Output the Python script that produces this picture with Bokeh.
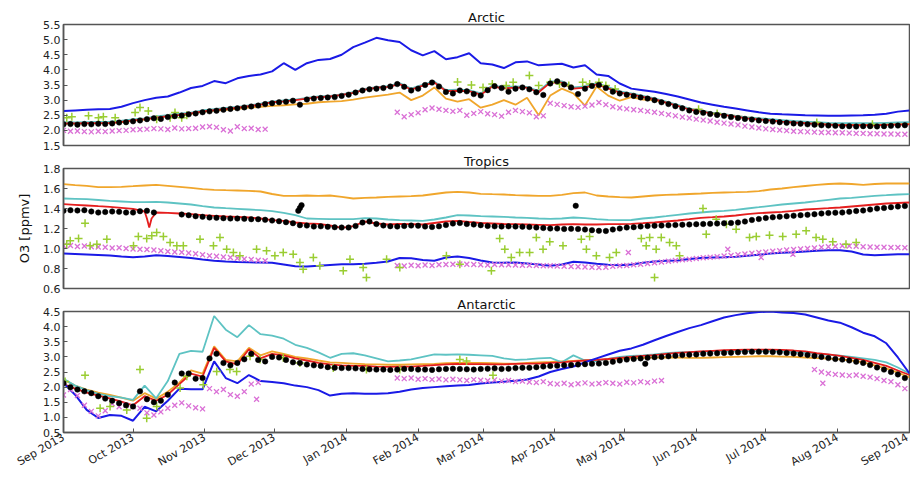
import math
import numpy as np
import pandas as pd
from bokeh.plotting import figure
from bokeh.layouts import column
from bokeh.models import Range1d, FixedTicker, DatetimeTickFormatter, NumeralTickFormatter
from bokeh.embed import file_html
from bokeh.resources import INLINE

START = "2013-09-01"
MONTHS = ["2013-09-01", "2013-10-01", "2013-11-01", "2013-12-01", "2014-01-01", "2014-02-01",
          "2014-03-01", "2014-04-01", "2014-05-01", "2014-06-01", "2014-07-01", "2014-08-01",
          "2014-09-01"]
LINE_DAYS = list(range(0, 366, 5))   # model curves, day offset from 1 Sep 2013
OBS_DAYS = list(range(0, 364, 3))    # observation markers

# ---------------- Arctic ----------------
ARC_BLUE = [2.64, 2.66, 2.68, 2.70, 2.71, 2.78, 2.90, 3.00, 3.08, 3.12,
            3.25, 3.40, 3.47, 3.63, 3.56, 3.72, 3.80, 3.85, 3.95, 4.22,
            4.00, 4.22, 4.33, 4.36, 4.50, 4.75, 4.90, 5.06, 4.98, 4.92,
            4.65, 4.48, 4.62, 4.35, 4.42, 4.55, 4.22, 4.18, 4.06, 4.25,
            4.28, 4.15, 4.18, 4.20, 4.08, 4.15, 3.85, 3.80, 3.55, 3.38,
            3.33, 3.28, 3.20, 3.12, 3.02, 2.92, 2.85, 2.78, 2.72, 2.66,
            2.60, 2.55, 2.53, 2.52, 2.50, 2.49, 2.48, 2.48, 2.49, 2.50,
            2.52, 2.55, 2.62, 2.66]
ARC_CYAN = [2.27, 2.26, 2.27, 2.28, 2.29, 2.32, 2.36, 2.40, 2.46, 2.50,
            2.55, 2.59, 2.66, 2.70, 2.74, 2.78, 2.83, 2.88, 2.95, 2.99,
            3.02, 3.07, 3.12, 3.14, 3.19, 3.26, 3.37, 3.43, 3.46, 3.56,
            3.38, 3.51, 3.62, 3.33, 3.35, 3.33, 3.22, 3.48, 3.43, 3.45,
            3.44, 3.30, 3.62, 3.62, 3.42, 3.45, 3.56, 3.43, 3.29, 3.22,
            3.14, 3.06, 2.95, 2.84, 2.72, 2.65, 2.59, 2.54, 2.48, 2.43,
            2.40, 2.37, 2.34, 2.31, 2.29, 2.27, 2.25, 2.24, 2.24, 2.24,
            2.24, 2.25, 2.26, 2.27]
ARC_RED = [2.23, 2.23, 2.24, 2.24, 2.25, 2.28, 2.33, 2.37, 2.42, 2.47,
           2.51, 2.56, 2.63, 2.67, 2.71, 2.75, 2.80, 2.85, 2.93, 2.96,
           3.00, 3.05, 3.10, 3.12, 3.17, 3.24, 3.35, 3.41, 3.44, 3.53,
           3.35, 3.48, 3.58, 3.30, 3.31, 3.30, 3.18, 3.45, 3.39, 3.41,
           3.41, 3.26, 3.58, 3.58, 3.38, 3.41, 3.52, 3.39, 3.25, 3.19,
           3.11, 3.03, 2.92, 2.81, 2.69, 2.62, 2.56, 2.51, 2.45, 2.40,
           2.36, 2.33, 2.29, 2.26, 2.24, 2.21, 2.19, 2.17, 2.17, 2.17,
           2.17, 2.18, 2.19, 2.20]
ARC_ORANGE = [2.22, 2.22, 2.23, 2.23, 2.24, 2.27, 2.32, 2.36, 2.42, 2.47,
              2.51, 2.55, 2.61, 2.65, 2.68, 2.71, 2.75, 2.78, 2.81, 2.83,
              2.86, 2.88, 2.93, 2.95, 2.97, 3.02, 3.08, 3.13, 3.18, 3.25,
              3.00, 3.15, 3.42, 3.05, 2.95, 3.03, 2.75, 2.85, 3.00, 2.85,
              3.08, 2.50, 3.15, 3.38, 3.22, 2.82, 3.45, 3.15, 2.98, 3.10,
              3.02, 3.00, 2.92, 2.82, 2.72, 2.65, 2.58, 2.53, 2.48, 2.43,
              2.39, 2.35, 2.32, 2.29, 2.26, 2.24, 2.22, 2.21, 2.20, 2.20,
              2.20, 2.21, 2.22, 2.23]
ARC_BLACK = [2.20, 2.21, 2.19, 2.21, 2.20, 2.22, 2.21, 2.23, 2.26, 2.27,
             2.30, 2.33, 2.37, 2.40, 2.38, 2.44, 2.47, 2.49, 2.53, 2.56,
             2.60, 2.63, 2.65, 2.68, 2.71, 2.73, 2.76, 2.79, 2.82, 2.87,
             2.90, 2.93, 2.95, 2.98, 2.85, 3.02, 3.05, 3.07, 3.09, 3.10,
             3.14, 3.18, 3.25, 3.32, 3.36, 3.38, 3.40, 3.45, 3.53, 3.44,
             3.32, 3.38, 3.50, 3.58, 3.45, 3.27, 3.22, 3.32, 3.29, 3.20,
             3.15, 3.33, 3.46, 3.40, 3.28, 3.38, 3.42, 3.36, 3.26, 3.17,
             3.55, 3.62, 3.52, 3.42, 3.20, 3.38, 3.47, 3.50, 3.40, 3.28,
             3.22, 3.18, 3.14, 3.09, 3.05, 3.00, 2.93, 2.87, 2.80, 2.73,
             2.66, 2.61, 2.58, 2.54, 2.51, 2.48, 2.44, 2.41, 2.38, 2.36,
             2.33, 2.31, 2.29, 2.27, 2.25, 2.23, 2.22, 2.20, 2.19, 2.17,
             2.16, 2.15, 2.14, 2.14, 2.13, 2.14, 2.14, 2.13, 2.14, 2.15,
             2.16, 2.17]
ARC_VIOLET = [2.00, 1.97, 1.98, 1.96, 1.95, 1.97, 1.96, 1.98, 1.99, 2.00,
              2.02, 2.03, 2.04, 2.06, 2.05, 2.03, 2.08, 2.05, 2.06, 2.07,
              2.11, 2.13, 2.10, 2.02, 1.98, 2.12, 2.06, 2.07, 2.03, 2.04,
              None, None, None, None, None, None, None, None, None, None,
              None, None, None, None, None, None, None, None, 2.60, 2.45,
              2.52, 2.58, 2.68, 2.74, 2.70, 2.66, 2.63, 2.66, 2.50, 2.56,
              2.62, 2.55, 2.52, 2.47, 2.60, 2.66, 2.62, 2.58, 2.45, 2.48,
              2.90, 2.86, 2.82, 2.78, 2.76, 2.80, 2.84, 2.92, 2.85, 2.78,
              2.74, 2.71, 2.68, 2.66, 2.63, 2.60, 2.56, 2.52, 2.48, 2.44,
              2.41, 2.37, 2.34, 2.31, 2.27, 2.24, 2.21, 2.18, 2.14, 2.11,
              2.08, 2.05, 2.03, 2.01, 1.99, 1.97, 1.96, 1.95, 1.94, 1.93,
              1.93, 1.92, 1.92, 1.91, 1.90, 1.90, 1.89, 1.89, 1.88, 1.88,
              1.87, 1.87]
ARC_GREEN_DAYS = [1.4, 3.6, 10.8, 15.1, 17.2, 22.3, 30.9, 33, 36.6, 40.2, 46, 48.1, 51, 53.2,
                  170, 176, 181, 185, 191, 194, 201, 205, 210, 214, 218, 224, 227, 231, 234, 238,
                  274, 282, 325, 349]
ARC_GREEN = [2.42, 2.45, 2.48, 2.42, 2.45, 2.42, 2.59, 2.76, 2.64, 2.37, 2.42, 2.59, 2.42, 2.50,
             3.60, 3.50, 3.42, 3.53, 3.48, 3.59, 3.81, 3.48, 3.59, 3.53, 3.48, 3.59, 3.53, 3.59, 3.48, 3.37,
             2.70, 2.56, 2.26, 2.20]

# ---------------- Tropics ----------------
TRO_ORANGE = [1.643, 1.633, 1.627, 1.613, 1.613, 1.617, 1.623, 1.630, 1.637, 1.627,
              1.617, 1.607, 1.593, 1.587, 1.583, 1.580, 1.577, 1.570, 1.545, 1.527,
              1.527, 1.530, 1.527, 1.530, 1.517, 1.500, 1.507, 1.510, 1.517, 1.520,
              1.523, 1.530, 1.545, 1.560, 1.567, 1.560, 1.547, 1.543, 1.540, 1.533,
              1.530, 1.527, 1.527, 1.537, 1.553, 1.560, 1.530, 1.520, 1.513, 1.510,
              1.520, 1.530, 1.537, 1.540, 1.545, 1.550, 1.557, 1.560, 1.563, 1.567,
              1.573, 1.590, 1.600, 1.613, 1.625, 1.637, 1.645, 1.650, 1.645, 1.637,
              1.645, 1.650, 1.650, 1.650]
TRO_CYAN = [1.500, 1.497, 1.493, 1.485, 1.477, 1.470, 1.463, 1.463, 1.467, 1.460,
            1.450, 1.440, 1.423, 1.410, 1.403, 1.397, 1.390, 1.383, 1.373, 1.357,
            1.333, 1.300, 1.297, 1.293, 1.293, 1.293, 1.303, 1.300, 1.290, 1.283,
            1.280, 1.277, 1.290, 1.310, 1.333, 1.330, 1.323, 1.320, 1.317, 1.310,
            1.307, 1.300, 1.297, 1.300, 1.310, 1.303, 1.293, 1.287, 1.283, 1.285,
            1.300, 1.310, 1.323, 1.337, 1.350, 1.360, 1.370, 1.377, 1.387, 1.400,
            1.413, 1.427, 1.440, 1.450, 1.460, 1.473, 1.487, 1.500, 1.507, 1.517,
            1.527, 1.533, 1.540, 1.543]
TRO_RED = [1.443, 1.437, 1.430, 1.423, 1.417, 1.407, 1.397, 1.370, 1.360, 1.357,
           1.350, 1.343, 1.333, 1.327, 1.320, 1.317, 1.310, 1.300, 1.283, 1.277,
           1.260, 1.250, 1.247, 1.230, 1.207, 1.223, 1.270, 1.250, 1.240, 1.245,
           1.243, 1.240, 1.255, 1.270, 1.277, 1.265, 1.255, 1.250, 1.245, 1.243,
           1.240, 1.237, 1.233, 1.240, 1.243, 1.240, 1.240, 1.243, 1.243, 1.247,
           1.253, 1.260, 1.270, 1.280, 1.293, 1.307, 1.313, 1.320, 1.330, 1.343,
           1.353, 1.360, 1.367, 1.377, 1.390, 1.397, 1.403, 1.410, 1.420, 1.430,
           1.440, 1.450, 1.455, 1.460]
TRO_RED_DIP_DAYS = [36, 37, 38]
TRO_RED_DIP = [1.30, 1.21, 1.30]
TRO_BLUE = [0.950, 0.945, 0.940, 0.935, 0.930, 0.920, 0.912, 0.920, 0.933, 0.925,
            0.915, 0.905, 0.890, 0.877, 0.870, 0.865, 0.862, 0.860, 0.858, 0.840,
            0.822, 0.820, 0.827, 0.835, 0.843, 0.843, 0.847, 0.858, 0.870, 0.905,
            0.902, 0.885, 0.877, 0.910, 0.920, 0.905, 0.880, 0.860, 0.858, 0.860,
            0.850, 0.840, 0.827, 0.840, 0.867, 0.860, 0.847, 0.837, 0.833, 0.840,
            0.857, 0.870, 0.877, 0.880, 0.895, 0.905, 0.910, 0.913, 0.917, 0.927,
            0.937, 0.950, 0.957, 0.963, 0.970, 0.977, 0.983, 0.983, 0.970, 0.940,
            0.933, 0.938, 0.942, 0.943]
TRO_BLACK = [1.377, 1.383, 1.380, 1.383, 1.370, 1.360, 1.365, 1.370, 1.367, 1.360,
             1.360, 1.373, 1.377, 1.360, None, None, None, 1.340, 1.333, 1.323,
             1.317, 1.310, 1.307, 1.303, 1.300, 1.300, 1.297, 1.293, 1.293, 1.287,
             1.280, 1.273, 1.263, 1.253, 1.233, 1.230, 1.220, 1.222, 1.217, 1.213,
             1.210, 1.210, 1.225, 1.260, 1.270, 1.245, 1.230, 1.223, 1.220, 1.225,
             1.230, 1.228, 1.220, 1.215, 1.222, 1.235, 1.250, 1.255, 1.245, 1.240,
             1.233, 1.225, 1.222, 1.220, 1.222, 1.220, 1.218, 1.215, 1.210, 1.205,
             1.200, 1.200, 1.195, 1.197, 1.195, 1.190, 1.183, 1.177, 1.175, 1.190,
             1.200, 1.210, 1.213, 1.220, 1.225, 1.228, 1.230, 1.232, 1.235, 1.238,
             1.240, 1.243, 1.245, 1.247, 1.250, 1.252, 1.255, 1.260, 1.270, 1.285,
             1.295, 1.305, 1.312, 1.318, 1.323, 1.328, 1.333, 1.337, 1.343, 1.350,
             1.355, 1.358, 1.360, 1.367, 1.375, 1.380, 1.390, 1.400, 1.405, 1.413,
             1.420, 1.425]
TRO_BLACK_EXTRA_DAYS = [101.3, 102, 102.7, 221]
TRO_BLACK_EXTRA = [1.377, 1.405, 1.433, 1.427]
TRO_VIOLET = [1.027, 1.030, 1.020, 1.025, 1.018, 1.015, 1.012, 1.005, 1.008, 1.000,
              0.995, 0.992, 0.990, 0.985, 0.978, 0.970, 0.965, 0.962, 0.955, 0.948,
              0.937, 0.927, 0.922, 0.915, 0.910, 0.902, 0.895, 0.890, 0.883, 0.877,
              None, None, None, None, None, None, None, None, None, None,
              None, None, None, None, None, None, None, None, 0.830, 0.825,
              0.833, 0.828, 0.835, 0.830, 0.837, 0.840, 0.843, 0.845, 0.842, 0.840,
              0.838, 0.835, 0.840, 0.838, 0.837, 0.835, 0.833, 0.832, 0.830, 0.827,
              0.828, 0.825, 0.822, 0.820, 0.818, 0.815, 0.812, 0.810, 0.812, 0.822,
              0.827, 0.830, 0.837, 0.843, 0.850, 0.857, 0.865, 0.872, 0.880, 0.887,
              0.893, 0.900, 0.907, 0.912, 0.918, 0.925, 0.930, 0.937, 0.945, 0.953,
              0.960, 0.965, 0.972, 0.978, 0.985, 0.990, 0.995, 1.000, 1.005, 1.012,
              1.018, 1.023, 1.027, 1.025, 1.022, 1.018, 1.015, 1.013, 1.012, 1.010,
              1.010, 1.008]
TRO_VIOLET_EXTRA_DAYS = [243.7, 286.6, 301, 314.7]
TRO_VIOLET_EXTRA = [0.96, 0.993, 0.91, 0.943]
TRO_GREEN_DAYS = [1.4, 2.9, 6.5, 9.3, 11.5, 14.4, 18.7, 30.2, 32.3, 35.9, 38.1, 40.2, 43.1, 46.0,
                  48.9, 51.7, 58.9, 64.7, 67.5, 70.4, 73.3, 76.1, 83.3, 87.6, 91.2, 94.8, 99.1,
                  102, 103.4, 107.8, 110.6, 120.7, 123.6, 129.3, 130.7, 139.4, 145.1, 165.2,
                  171, 184.6, 188.2, 190.4, 193.2, 196.8, 201.1, 204, 206.9, 209.8, 215.5,
                  223.4, 225.6, 227, 229.9, 235.6, 238.5, 249.3, 251.4, 252.9, 255, 255.7,
                  257.9, 261.5, 264.4, 265.8, 275.9, 277.3, 281.6, 286, 290.2, 296, 298.9,
                  304.6, 310.3, 316.1, 320.4, 324.7, 327.6, 331.9, 337.6, 342]
TRO_GREEN = [1.043, 1.077, 1.100, 1.253, 1.027, 1.043, 1.093, 1.027, 1.120, 1.100, 1.127, 1.160, 1.120, 1.060,
             1.027, 1.027, 1.093, 1.027, 1.110, 0.993, 0.960, 0.927, 0.993, 0.977, 0.927, 0.960, 0.943,
             0.860, 0.793, 0.910, 0.827, 0.777, 0.893, 0.810, 0.710, 0.893, 0.810, 0.927,
             0.843, 0.777, 1.100, 0.993, 0.910, 0.960, 0.960, 1.110, 0.993, 1.067, 1.027,
             1.093, 0.993, 1.120, 0.927, 0.910, 0.960, 1.100, 1.027, 1.110, 0.710, 0.993,
             1.110, 1.060, 1.027, 0.927, 1.400, 1.143, 1.293, 1.243, 1.193, 1.110, 1.120,
             1.133, 1.120, 1.143, 1.177, 1.110, 1.093, 1.067, 1.043, 1.060]

# ---------------- Antarctic ----------------
ANT_BLUE = [2.13, 1.75, 1.25, 0.98, 1.08, 1.05, 0.89, 1.35, 1.20, 1.55,
            1.95, 1.93, 1.93, 2.85, 2.30, 2.13, 2.40, 2.20, 2.17, 2.13,
            2.05, 2.00, 1.90, 1.72, 1.78, 1.80, 1.78, 1.78, 1.80, 1.85,
            1.92, 1.97, 2.00, 2.03, 2.05, 2.07, 2.12, 2.15, 2.18, 2.21,
            2.25, 2.35, 2.50, 2.60, 2.68, 2.82, 2.95, 3.08, 3.20, 3.28,
            3.40, 3.55, 3.69, 3.82, 3.95, 4.05, 4.18, 4.30, 4.38, 4.44,
            4.48, 4.50, 4.47, 4.45, 4.40, 4.30, 4.20, 4.13, 3.98, 3.80,
            3.68, 3.45, 2.98, 2.45]
ANT_CYAN = [2.28, 2.05, 1.90, 1.78, 1.70, 1.65, 1.58, 2.05, 1.63, 2.20,
            3.10, 3.20, 3.17, 4.35, 3.90, 3.65, 4.05, 3.75, 3.70, 3.60,
            3.40, 3.30, 3.15, 2.97, 3.10, 3.12, 3.05, 2.95, 2.85, 2.88,
            2.92, 3.00, 3.08, 3.07, 3.08, 3.07, 3.05, 3.03, 2.95, 2.90,
            2.92, 2.95, 2.97, 2.82, 3.05, 2.88, 2.85, 2.93, 3.00, 3.03,
            3.05, 3.08, 3.12, 3.15, 3.16, 3.17, 3.18, 3.18, 3.19, 3.19,
            3.19, 3.19, 3.18, 3.16, 3.13, 3.10, 3.07, 3.04, 3.00, 2.95,
            2.90, 2.82, 2.65, 2.45]
ANT_RED = [2.10, 1.95, 1.82, 1.72, 1.63, 1.52, 1.40, 1.70, 1.55, 1.75,
           2.10, 2.45, 2.35, 3.30, 2.85, 2.75, 3.25, 2.95, 3.10, 3.05,
           2.95, 2.88, 2.80, 2.75, 2.72, 2.70, 2.70, 2.68, 2.67, 2.68,
           2.68, 2.70, 2.73, 2.75, 2.77, 2.76, 2.76, 2.75, 2.75, 2.77,
           2.78, 2.78, 2.80, 2.82, 2.85, 2.88, 2.90, 2.93, 2.97, 3.00,
           3.03, 3.06, 3.10, 3.13, 3.16, 3.18, 3.20, 3.22, 3.23, 3.24,
           3.24, 3.24, 3.23, 3.21, 3.18, 3.12, 3.08, 3.03, 2.97, 2.90,
           2.80, 2.70, 2.55, 2.40]
ANT_ORANGE = [2.25, 2.05, 1.92, 1.82, 1.74, 1.65, 1.55, 1.80, 1.62, 1.85,
              2.15, 2.55, 2.45, 3.35, 2.90, 2.85, 3.30, 3.05, 3.18, 3.10,
              3.00, 2.95, 2.88, 2.82, 2.80, 2.78, 2.76, 2.75, 2.74, 2.74,
              2.75, 2.76, 2.77, 2.79, 2.80, 2.80, 2.80, 2.79, 2.78, 2.78,
              2.80, 2.82, 2.83, 2.85, 2.87, 2.89, 2.90, 2.92, 2.94, 2.96,
              2.97, 2.98, 2.98, 2.98, 2.97, 2.97, 2.98, 2.99, 3.00, 3.01,
              3.02, 3.02, 3.01, 3.00, 2.98, 2.96, 2.94, 2.92, 2.88, 2.82,
              2.72, 2.62, 2.48, 2.32]
ANT_BLACK = [2.13, 2.00, 1.92, 1.86, 1.80, 1.70, 1.62, 1.55, 1.47, 1.40,
             1.36, 1.86, 1.60, 1.50, 1.55, 1.75, 2.15, 2.45, 2.45, 2.28,
             2.30, 2.95, 3.10, 2.80, 2.72, 2.80, 2.92, 3.10, 2.90, 2.85,
             3.00, 2.98, 2.90, 2.82, 2.80, 2.75, 2.72, 2.70, 2.66, 2.64,
             2.63, 2.63, 2.62, 2.60, 2.59, 2.58, 2.58, 2.57, 2.58, 2.60,
             2.60, 2.58, 2.58, 2.57, 2.59, 2.60, 2.61, 2.60, 2.59, 2.58,
             2.60, 2.61, 2.62, 2.60, 2.61, 2.63, 2.64, 2.64, 2.66, 2.68,
             2.70, 2.71, 2.72, 2.73, 2.75, 2.76, 2.77, 2.78, 2.80, 2.84,
             2.88, 2.91, 2.93, 2.95, 2.97, 2.99, 3.00, 3.02, 3.04, 3.06,
             3.07, 3.08, 3.10, 3.11, 3.12, 3.13, 3.14, 3.15, 3.16, 3.17,
             3.17, 3.17, 3.16, 3.15, 3.13, 3.11, 3.09, 3.06, 3.03, 3.00,
             2.96, 2.93, 2.91, 2.88, 2.84, 2.80, 2.73, 2.65, 2.58, 2.50,
             2.42, 2.30]
ANT_BLACK_EXTRA_DAYS = [251]
ANT_BLACK_EXTRA = [2.77]
ANT_VIOLET = [1.74, 1.92, 1.72, 1.40, 1.20, 1.05, 1.22, 1.45, 1.35, 1.40,
              1.35, 1.30, 1.15, 1.08, 1.18, 1.30, 1.40, 1.48, 1.38, 1.32,
              1.28, 1.95, 1.85, 1.92, 1.75, 1.70, 1.85, 2.10, 2.15, None,
              None, None, None, None, None, None, None, None, None, None,
              None, None, None, None, None, None, None, None, 2.30, 2.28,
              2.30, 2.26, 2.28, 2.25, 2.27, 2.24, 2.26, 2.24, 2.22, 2.25,
              2.23, 2.21, 2.24, 2.20, 2.22, 2.18, 2.20, 2.17, 2.15, 2.18,
              2.12, 2.10, 2.13, 2.08, 2.11, 2.14, 2.10, 2.12, 2.15, 2.13,
              2.10, 2.16, 2.14, 2.18, 2.15, 2.20, 2.22, None, None, None,
              None, None, None, None, None, None, None, None, None, None,
              None, None, None, None, None, None, None, None, 2.58, 2.50,
              2.45, 2.42, 2.40, 2.38, 2.40, 2.36, 2.33, 2.28, 2.22, 2.18,
              2.08, 1.95]
ANT_VIOLET_EXTRA_DAYS = [83.3, 327.6]
ANT_VIOLET_EXTRA = [1.60, 2.13]
ANT_GREEN_DAYS = [0.7, 9.3, 15.8, 20.1, 27.3, 33, 35.9, 40.2, 50.3, 53.2, 60.3, 66.1, 71.8, 74.7,
                  80.5, 84.8, 94.8, 102, 116.4, 130.7, 145.1, 171, 173.9, 185.3]
ANT_GREEN = [2.19, 2.39, 1.30, 1.36, 1.24, 2.58, 0.97, 1.36, 1.97, 2.36, 2.08, 2.52, 2.58, 2.52,
             3.02, 2.91, 2.97, 2.80, 2.63, 2.58, 2.58, 2.91, 2.86, 2.39]

BLUE, ORANGE, CYAN, RED = "#1a1ae6", "#f0a62c", "#5ec3c3", "#e51e1e"
GREEN, VIOLET, BLACK = "#9acd32", "#da70d6", "#000000"
FONT = "DejaVu Sans"
FRAME = "#555555"

T0 = pd.Timestamp(START)


def to_dates(days):
    return [T0 + pd.Timedelta(days=float(d)) for d in days]


def pairs(days, vals):
    n = min(len(days), len(vals))
    d = np.array(days[:n], dtype=float)
    v = np.array(vals[:n], dtype=float)
    keep = ~np.isnan(v)
    return to_dates(d[keep]), v[keep]


x_range = Range1d(pd.Timestamp(MONTHS[0]), pd.Timestamp(MONTHS[-1]))
month_ms = [pd.Timestamp(m).timestamp() * 1000.0 for m in MONTHS]


def make_panel(title, ylo, yhi, yticks, lines, obs, frame_h, border_top, border_bottom,
               show_x, ylabel=None):
    p = figure(frame_width=846, frame_height=frame_h, x_axis_type="datetime", x_range=x_range,
               y_range=Range1d(ylo, yhi), output_backend="svg", toolbar_location=None,
               min_border_left=63, min_border_right=1, min_border_top=border_top,
               min_border_bottom=border_bottom, background_fill_color="white",
               border_fill_color="white")
    p.title.text = title
    p.title.align = "center"
    p.title.text_font = FONT
    p.title.text_font_size = "13px"
    p.title.text_font_style = "normal"
    p.title.text_color = "#111111"
    p.title.standoff = 0
    p.grid.visible = False
    p.outline_line_color = FRAME
    p.outline_line_width = 1.5
    for ax in (p.xaxis[0], p.yaxis[0]):
        ax.axis_line_color = FRAME
        ax.axis_line_width = 1.5
        ax.major_tick_line_color = FRAME
        ax.major_tick_in = 4
        ax.major_tick_out = 0
        ax.minor_tick_line_color = None
        ax.major_label_text_font = FONT
        ax.major_label_text_font_size = "11px"
        ax.major_label_text_color = "#222222"
    p.yaxis.ticker = FixedTicker(ticks=yticks)
    p.yaxis.formatter = NumeralTickFormatter(format="0.0")
    p.yaxis.major_label_standoff = 3
    p.xaxis.ticker = FixedTicker(ticks=month_ms)
    fmt = "%b %Y"
    p.xaxis.formatter = DatetimeTickFormatter(months=fmt, days=fmt, years=fmt, hours=fmt,
                                              minutes=fmt, seconds=fmt, milliseconds=fmt,
                                              microseconds=fmt, hourmin=fmt, minsec=fmt)
    if show_x:
        p.xaxis.major_label_orientation = math.pi / 6
        p.xaxis.major_label_standoff = 4
    else:
        p.xaxis.visible = False
    if ylabel:
        p.yaxis.axis_label = ylabel
        p.yaxis.axis_label_text_font = FONT
        p.yaxis.axis_label_text_font_size = "13px"
        p.yaxis.axis_label_text_font_style = "normal"
        p.yaxis.axis_label_text_color = "#111111"
        p.yaxis.axis_label_standoff = 8

    for vals, color, width in lines:
        xs, ys = pairs(vals[0], vals[1])
        p.line(xs, ys, line_color=color, line_width=width)
    for (dvals, marker, color, size, lw) in obs:
        xs, ys = pairs(dvals[0], dvals[1])
        if marker == "circle":
            p.scatter(xs, ys, marker="circle", size=size, fill_color=color,
                      line_color=color, line_width=lw)
        else:
            p.scatter(xs, ys, marker=marker, size=size, line_color=color, line_width=lw)
    return p


def merge(days_a, vals_a, days_b, vals_b):
    d = list(days_a) + list(days_b)
    v = list(vals_a) + list(vals_b)
    order = np.argsort(d)
    return [d[i] for i in order], [v[i] for i in order]


arc = make_panel(
    "Arctic", 1.5, 5.5, [1.5, 2.0, 2.5, 3.0, 3.5, 4.0, 4.5, 5.0, 5.5],
    [((LINE_DAYS, ARC_ORANGE), ORANGE, 1.8), ((LINE_DAYS, ARC_CYAN), CYAN, 1.8),
     ((LINE_DAYS, ARC_RED), RED, 1.8), ((LINE_DAYS, ARC_BLUE), BLUE, 2.0)],
    [((OBS_DAYS, ARC_VIOLET), "x", VIOLET, 7, 1.3),
     ((ARC_GREEN_DAYS, ARC_GREEN), "cross", GREEN, 8, 1.5),
     ((OBS_DAYS, ARC_BLACK), "circle", BLACK, 5.5, 0.5)],
    121, 24, 6, False)

tro_red_d, tro_red_v = merge(LINE_DAYS, TRO_RED, TRO_RED_DIP_DAYS, TRO_RED_DIP)
tro = make_panel(
    "Tropics", 0.6, 1.8, [0.6, 0.8, 1.0, 1.2, 1.4, 1.6, 1.8],
    [((LINE_DAYS, TRO_ORANGE), ORANGE, 1.8), ((LINE_DAYS, TRO_CYAN), CYAN, 1.8),
     ((tro_red_d, tro_red_v), RED, 1.8), ((LINE_DAYS, TRO_BLUE), BLUE, 2.0)],
    [((OBS_DAYS, TRO_VIOLET), "x", VIOLET, 7, 1.3),
     ((TRO_VIOLET_EXTRA_DAYS, TRO_VIOLET_EXTRA), "x", VIOLET, 7, 1.3),
     ((TRO_GREEN_DAYS, TRO_GREEN), "cross", GREEN, 8, 1.5),
     ((OBS_DAYS, TRO_BLACK), "circle", BLACK, 5.5, 0.5),
     ((TRO_BLACK_EXTRA_DAYS, TRO_BLACK_EXTRA), "circle", BLACK, 5.5, 0.5)],
    120, 16, 6, False, ylabel="O3 [ppmv]")

ant = make_panel(
    "Antarctic", 0.5, 4.5, [0.5, 1.0, 1.5, 2.0, 2.5, 3.0, 3.5, 4.0, 4.5],
    [((LINE_DAYS, ANT_ORANGE), ORANGE, 1.8), ((LINE_DAYS, ANT_CYAN), CYAN, 1.8),
     ((LINE_DAYS, ANT_RED), RED, 1.8), ((LINE_DAYS, ANT_BLUE), BLUE, 2.0)],
    [((OBS_DAYS, ANT_VIOLET), "x", VIOLET, 7, 1.3),
     ((ANT_VIOLET_EXTRA_DAYS, ANT_VIOLET_EXTRA), "x", VIOLET, 7, 1.3),
     ((ANT_GREEN_DAYS, ANT_GREEN), "cross", GREEN, 8, 1.5),
     ((OBS_DAYS, ANT_BLACK), "circle", BLACK, 5.5, 0.5),
     ((ANT_BLACK_EXTRA_DAYS, ANT_BLACK_EXTRA), "circle", BLACK, 5.5, 0.5)],
    121, 16, 42, True)

layout = column(arc, tro, ant, spacing=0)
open("out.html", "w").write(file_html(layout, INLINE))
